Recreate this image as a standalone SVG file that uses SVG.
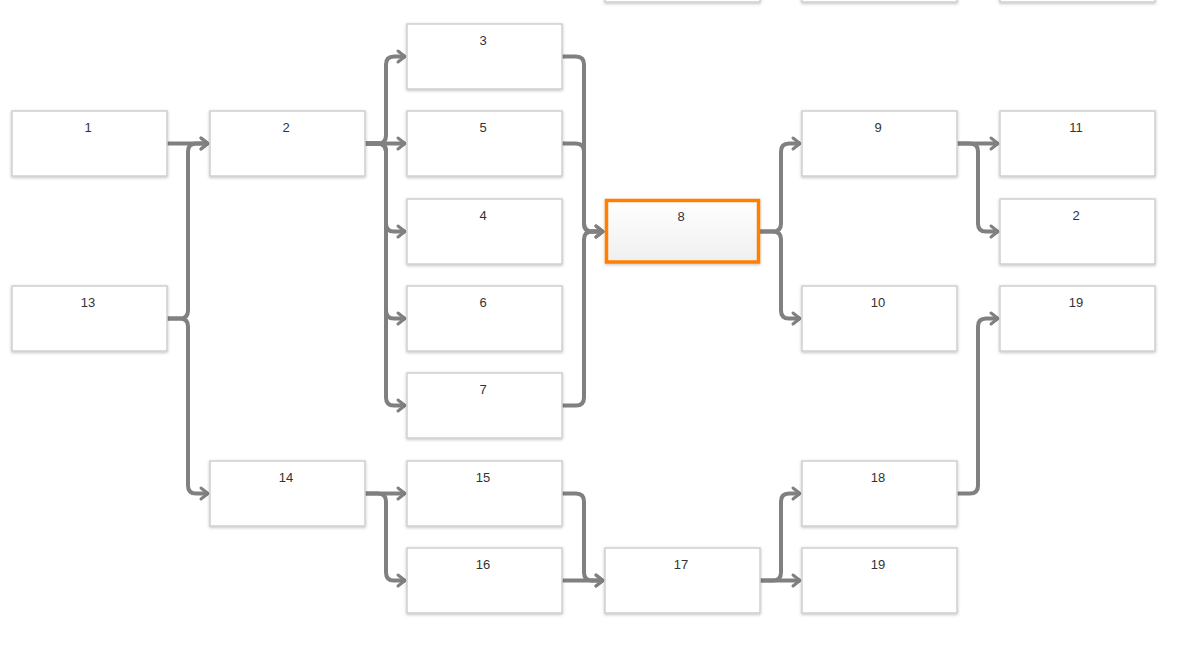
<svg xmlns="http://www.w3.org/2000/svg" width="1183" height="646" viewBox="0 0 1183 646">
<style>
.n rect{fill:#fff;stroke:#cfcfcf;stroke-width:1.5;filter:url(#sh)}
.n text{font-family:"Liberation Sans",Arial,sans-serif;font-size:13px;fill:#333;text-anchor:middle}
.c path{fill:none;stroke:#808080;stroke-width:4;marker-end:url(#a)}
</style>
<defs>
<filter id="sh" x="-10%" y="-10%" width="120%" height="130%">
<feDropShadow dx="0" dy="1" stdDeviation="1.5" flood-color="#000" flood-opacity="0.25"/>
</filter>
<linearGradient id="g" x1="0" y1="0" x2="0" y2="1">
<stop offset="0" stop-color="#ffffff"/>
<stop offset="1" stop-color="#efefef"/>
</linearGradient>
<marker id="a" markerUnits="userSpaceOnUse" markerWidth="14" markerHeight="14" refX="10" refY="7" orient="auto" overflow="visible">
<path d="M3,1.5 L10,7 L3,12.5" fill="none" stroke="#808080" stroke-width="3" stroke-linecap="round" stroke-linejoin="round"/>
</marker>
</defs>
<rect width="1183" height="646" fill="#fff"/>
<g class="c" id="connectors">
<path d="M167,143.5 H208"/>
<path d="M167,318.5 H180 Q188,318.5 188,310.5 V151.5 Q188,143.5 196,143.5 H208"/>
<path d="M167,318.5 H180 Q188,318.5 188,326.5 V485.5 Q188,493.5 196,493.5 H208"/>
<path d="M365,143.5 H378 Q386,143.5 386,135.5 V64.5 Q386,56.5 394,56.5 H405"/>
<path d="M365,143.5 H405"/>
<path d="M365,143.5 H378 Q386,143.5 386,151.5 V223.5 Q386,231.5 394,231.5 H405"/>
<path d="M365,143.5 H378 Q386,143.5 386,151.5 V310.5 Q386,318.5 394,318.5 H405"/>
<path d="M365,143.5 H378 Q386,143.5 386,151.5 V397.5 Q386,405.5 394,405.5 H405"/>
<path d="M562,56.5 H576 Q584,56.5 584,64.5 V223.5 Q584,231.5 592,231.5 H603"/>
<path d="M562,143.5 H576 Q584,143.5 584,151.5 V223.5 Q584,231.5 592,231.5 H603"/>
<path d="M562,405.5 H576 Q584,405.5 584,397.5 V239.5 Q584,231.5 592,231.5 H603"/>
<path d="M760,231.5 H773 Q781,231.5 781,223.5 V151.5 Q781,143.5 789,143.5 H800"/>
<path d="M760,231.5 H773 Q781,231.5 781,239.5 V310.5 Q781,318.5 789,318.5 H800"/>
<path d="M957,143.5 H998"/>
<path d="M957,143.5 H970 Q978,143.5 978,151.5 V223.5 Q978,231.5 986,231.5 H998"/>
<path d="M957,493.5 H970 Q978,493.5 978,485.5 V326.5 Q978,318.5 986,318.5 H998"/>
<path d="M365,493.5 H405"/>
<path d="M365,493.5 H378 Q386,493.5 386,501.5 V572.5 Q386,580.5 394,580.5 H405"/>
<path d="M562,493.5 H576 Q584,493.5 584,501.5 V572.5 Q584,580.5 592,580.5 H603"/>
<path d="M562,580.5 H603"/>
<path d="M760,580.5 H773 Q781,580.5 781,572.5 V501.5 Q781,493.5 789,493.5 H800"/>
<path d="M760,580.5 H800"/>
</g>
<g class="n" id="top1"><rect x="605" y="-63" width="155" height="65"/></g>
<g class="n" id="top2"><rect x="802" y="-63" width="155" height="65"/></g>
<g class="n" id="top3"><rect x="1000" y="-63" width="155" height="65"/></g>
<g class="n" id="n1"><rect x="12" y="111" width="155" height="65"/><text x="88" y="132">1</text></g>
<g class="n" id="n2"><rect x="210" y="111" width="155" height="65"/><text x="286" y="132">2</text></g>
<g class="n" id="n13"><rect x="12" y="286" width="155" height="65"/><text x="88" y="307">13</text></g>
<g class="n" id="n14"><rect x="210" y="461" width="155" height="65"/><text x="286" y="482">14</text></g>
<g class="n" id="n3"><rect x="407" y="24" width="155" height="65"/><text x="483" y="45">3</text></g>
<g class="n" id="n5"><rect x="407" y="111" width="155" height="65"/><text x="483" y="132">5</text></g>
<g class="n" id="n4"><rect x="407" y="199" width="155" height="65"/><text x="483" y="220">4</text></g>
<g class="n" id="n6"><rect x="407" y="286" width="155" height="65"/><text x="483" y="307">6</text></g>
<g class="n" id="n7"><rect x="407" y="373" width="155" height="65"/><text x="483" y="394">7</text></g>
<g class="n" id="n15"><rect x="407" y="461" width="155" height="65"/><text x="483" y="482">15</text></g>
<g class="n" id="n16"><rect x="407" y="548" width="155" height="65"/><text x="483" y="569">16</text></g>
<g class="n" id="n8"><rect x="606.5" y="200.5" width="152" height="61.5" style="fill:url(#g);stroke:#ff8000;stroke-width:3.5"/><text x="681" y="221">8</text></g>
<g class="n" id="n17"><rect x="605" y="548" width="155" height="65"/><text x="681" y="569">17</text></g>
<g class="n" id="n9"><rect x="802" y="111" width="155" height="65"/><text x="878" y="132">9</text></g>
<g class="n" id="n10"><rect x="802" y="286" width="155" height="65"/><text x="878" y="307">10</text></g>
<g class="n" id="n18"><rect x="802" y="461" width="155" height="65"/><text x="878" y="482">18</text></g>
<g class="n" id="n19a"><rect x="802" y="548" width="155" height="65"/><text x="878" y="569">19</text></g>
<g class="n" id="n11"><rect x="1000" y="111" width="155" height="65"/><text x="1076" y="132">11</text></g>
<g class="n" id="n2b"><rect x="1000" y="199" width="155" height="65"/><text x="1076" y="220">2</text></g>
<g class="n" id="n19b"><rect x="1000" y="286" width="155" height="65"/><text x="1076" y="307">19</text></g>
</svg>
